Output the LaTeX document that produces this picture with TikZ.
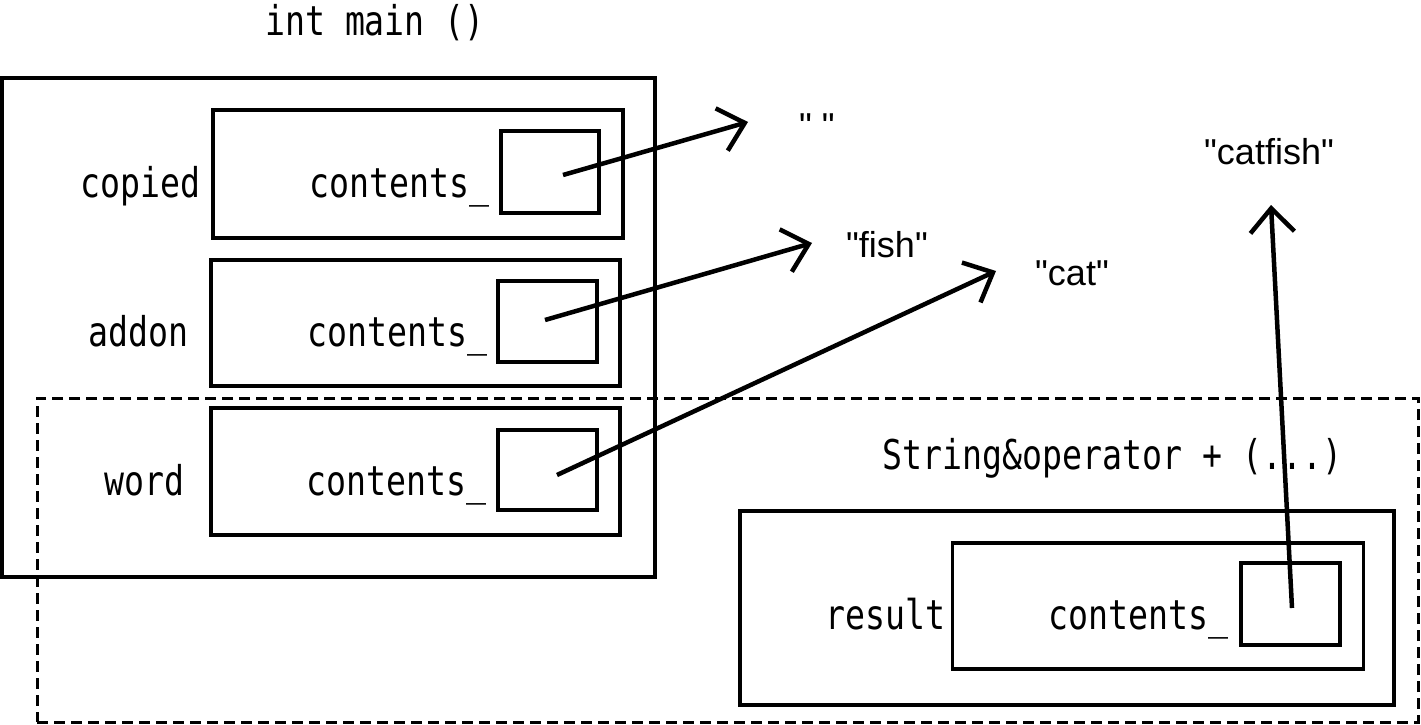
\documentclass[tikz,border=0pt]{standalone}
\usepackage{fontspec}
\newfontfamily\strfont{Liberation Sans}
\newfontfamily\codefont[FakeStretch=0.81]{DejaVu Sans Mono}
\usetikzlibrary{arrows.meta}
\tikzset{
  box/.style={draw, line width=3.2pt, inner sep=0pt, rectangle},
  dashbox/.style={draw, line width=3pt, dash pattern=on 11pt off 6pt, inner sep=0pt, rectangle},
  code/.style={font=\codefont\fontsize{41}{43}\selectfont, inner sep=0pt},
  strlabel/.style={font=\strfont\fontsize{36}{40}\selectfont, inner sep=0pt},
  pointer/.style={-{Straight Barb[length=24pt,width=44pt]}, line width=4.5pt},
}
\begin{document}
\begin{tikzpicture}[x=1pt,y=-1pt]
\useasboundingbox (0,0) rectangle (1421,725);
% title
\node[code, anchor=base] (title) at (375,36) {int main ()};
% main frame
\node[box, minimum width=653pt, minimum height=499pt] (mainbox) at (328.5,327.5) {};
% copied
\node[box, minimum width=410pt, minimum height=128pt] (copiedbox) at (418,174) {};
\node[box, minimum width=98pt, minimum height=82pt] (copiedptr) at (550,172) {};
\node[code, anchor=base east] (copiedlbl) at (201,197) {copied};
\node[code, anchor=base east] (copiedcont) at (490,197) {contents\_};
% addon
\node[box, minimum width=409pt, minimum height=126pt] (addonbox) at (415.5,323) {};
\node[box, minimum width=99pt, minimum height=81pt] (addonptr) at (547.5,321.5) {};
\node[code, anchor=base east] (addonlbl) at (189,346) {addon};
\node[code, anchor=base east] (addoncont) at (488,346) {contents\_};
% word
\node[box, minimum width=409pt, minimum height=127pt] (wordbox) at (415.5,471.5) {};
\node[box, minimum width=99pt, minimum height=80pt] (wordptr) at (547.5,470) {};
\node[code, anchor=base east] (wordlbl) at (185,495) {word};
\node[code, anchor=base east] (wordcont) at (487,495) {contents\_};
% dashed frame for operator +
\node[dashbox, minimum width=1381pt, minimum height=324pt] (opframe) at (727.5,560) {};
\node[code, anchor=base west] (optitle) at (882,469) {String\&operator + (...)};
% result
\node[box, minimum width=654pt, minimum height=194pt] (resultbox) at (1067,608) {};
\node[box, minimum width=411pt, minimum height=126pt] (resultinner) at (1158,606) {};
\node[box, minimum width=99pt, minimum height=82pt] (resultptr) at (1290.5,604) {};
\node[code, anchor=base east] (resultlbl) at (946,629) {result};
\node[code, anchor=base east] (resultcont) at (1229,629) {contents\_};
% string values
\node[strlabel, anchor=base west] (empty) at (799,138) {" "};
\node[strlabel, anchor=base west] (fish) at (846,257) {"fish"};
\node[strlabel, anchor=base west] (cat) at (1035,285) {"cat"};
\node[strlabel, anchor=base west] (catfish) at (1204,164) {"catfish"};
% pointer ends
\coordinate (copiedsrc) at (563,175);
\coordinate (copiedtip) at (748,122);
\coordinate (addonsrc) at (545,320);
\coordinate (addontip) at (812,243);
\coordinate (wordsrc) at (557,475);
\coordinate (wordtip) at (996,271);
\coordinate (resultsrc) at (1292,608);
\coordinate (resulttip) at (1271,205);
\draw[pointer] (copiedsrc) -- (copiedtip);
\draw[pointer] (addonsrc) -- (addontip);
\draw[pointer] (wordsrc) -- (wordtip);
\draw[pointer] (resultsrc) -- (resulttip);
\end{tikzpicture}
\end{document}
